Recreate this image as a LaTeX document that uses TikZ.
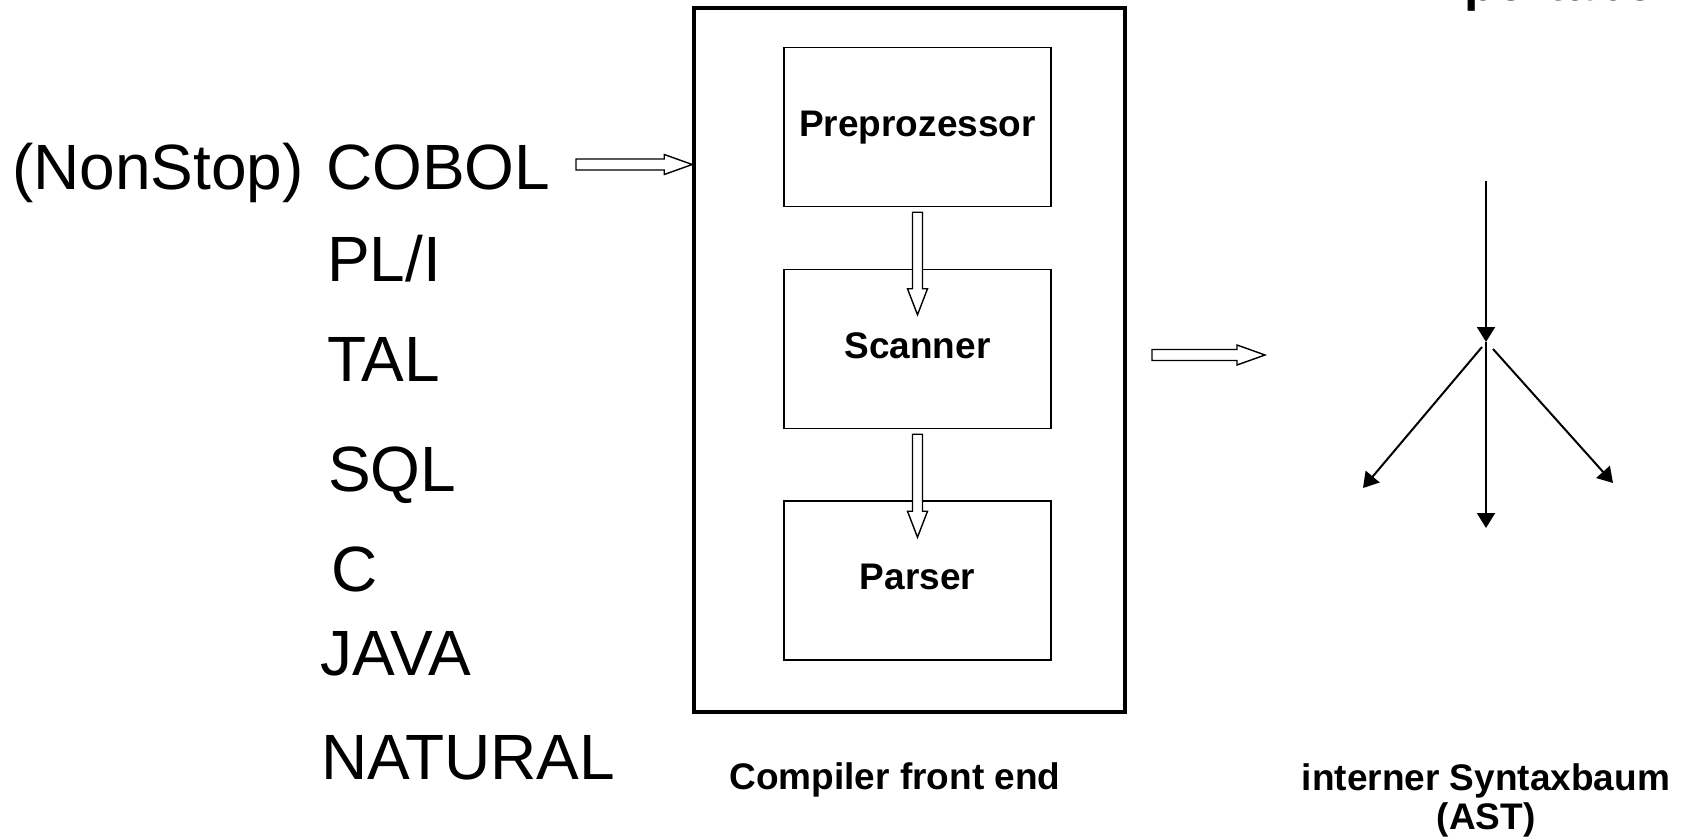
\documentclass[tikz,border=0pt]{standalone}
\usepackage{fontspec}
\setmainfont{Liberation Sans}
\usetikzlibrary{calc,arrows.meta}

% outlined block arrows: horizontal (tail #1, tip #2) and downward (tail #1, tip #2)
\newcommand\hblock[2]{%
  \path[blockarrow] ($(#1)+(0,-5.5)$) -- ($(#2)+(-28,-5.5)$) -- ($(#2)+(-28,-10)$)
    -- (#2) -- ($(#2)+(-28,10)$) -- ($(#2)+(-28,5.5)$) -- ($(#1)+(0,5.5)$) -- cycle;}
\newcommand\vblock[2]{%
  \path[blockarrow] ($(#1)+(-5,0)$) -- ($(#2)+(-5,-26)$) -- ($(#2)+(-10,-26)$)
    -- (#2) -- ($(#2)+(10,-26)$) -- ($(#2)+(5,-26)$) -- ($(#1)+(5,0)$) -- cycle;}

\begin{document}
\begin{tikzpicture}[x=1pt,y=-1pt,
  lang/.style={anchor=base west, inner sep=0pt, font=\fontsize{64}{64}\selectfont},
  stage/.style={draw, line width=1.5pt, minimum width=267pt, minimum height=159pt,
    inner sep=0pt, text height=26pt, text depth=8pt, font=\fontsize{37}{40}\selectfont\bfseries},
  frame/.style={draw, line width=3.5pt, minimum width=431pt, minimum height=704pt, inner sep=0pt},
  caption/.style={anchor=base, inner sep=0pt, font=\fontsize{37}{40}\selectfont\bfseries},
  blockarrow/.style={draw, fill=white, line width=1.4pt, line join=miter},
  treeedge/.style={line width=2pt, -{Triangle[length=15pt,width=18pt]}}
]
\useasboundingbox (0,0) rectangle (1686,840);

% heading running off the top edge
\node[anchor=base west, inner sep=0pt, font=\fontsize{52}{52}\selectfont\bfseries] (heading) at (1464,0.5) {portabel};

% source languages
\node[lang] (nonstop) at (12,189) {(NonStop)};
\node[lang] (cobol) at (326,189) {COBOL};
\node[lang] (pli) at (327,281) {PL/I};
\node[lang] (tal) at (327,381) {TAL};
\node[lang] (sql) at (328,491) {SQL};
\node[lang] (c) at (331,591) {C};
\node[lang] (java) at (320,675) {JAVA};
\node[lang] (natural) at (321,779) {NATURAL};

% compiler front end
\node[frame] (fe) at (909.5,360) {};
\node[stage] (pre) at (917.5,127) {Preprozessor};
\node[stage] (scan) at (917.5,349) {Scanner};
\node[stage] (parse) at (917.5,580.5) {Parser};
\node[caption] (fecap) at (895,789) {Compiler front end};

% block arrows
\coordinate (srcout) at (576,164.5);
\hblock{srcout}{fe.west |- srcout}
\vblock{$(pre.south)+(0,5)$}{$(scan.north)+(0,46)$}
\vblock{$(scan.south)+(0,5)$}{$(parse.north)+(0,37)$}
\coordinate (feout) at (1152,355);
\coordinate (astin) at (1265,355);
\hblock{feout}{astin}

% abstract syntax tree
\coordinate (troot) at (1486,181);
\coordinate (tfork) at (1486,342);
\coordinate (tleft) at (1363,488);
\coordinate (tmid) at (1486,528);
\coordinate (tright) at (1613,483);
\draw[treeedge] (troot) -- (tfork);
\draw[treeedge] (tfork) -- (tmid);
\draw[treeedge] ($(tfork)+(-4,5)$) -- (tleft);
\draw[treeedge] ($(tfork)+(7,7)$) -- (tright);
\node[caption] (astcap) at (1486,790) {interner Syntaxbaum};
\node[caption] (astcap2) at (1486,829) {(AST)};
\end{tikzpicture}
\end{document}
